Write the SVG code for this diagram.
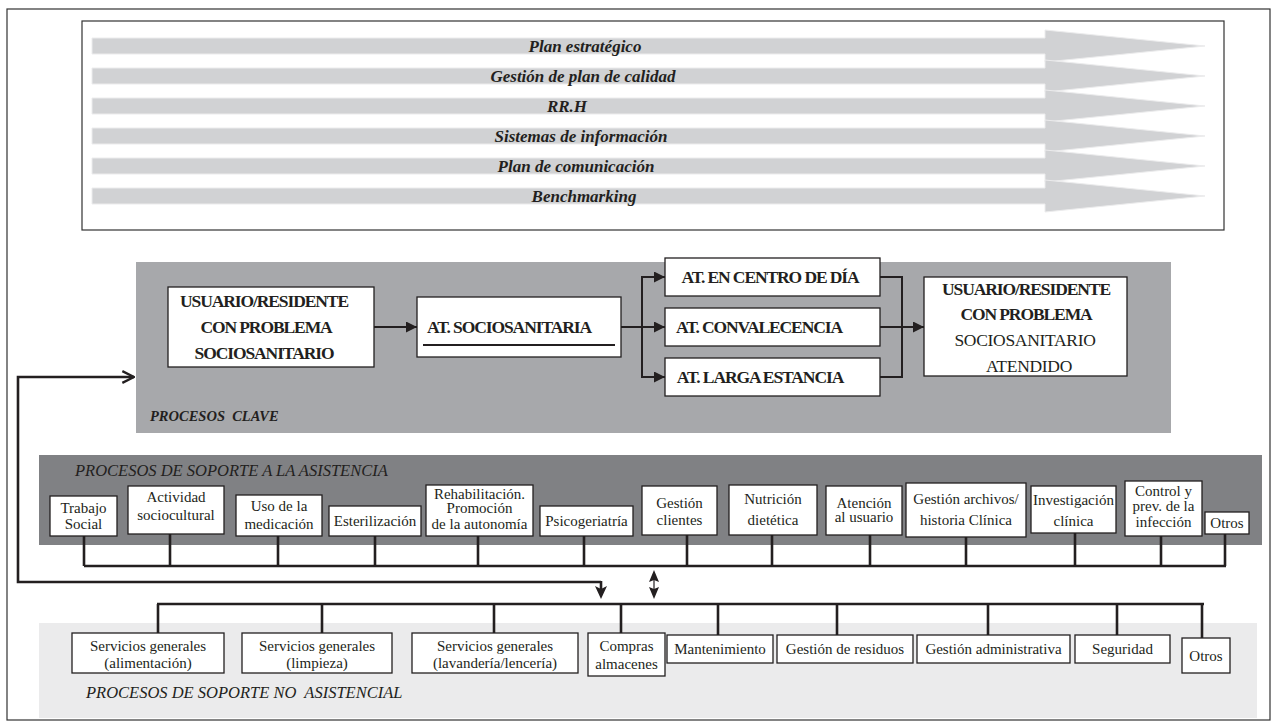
<svg xmlns="http://www.w3.org/2000/svg" width="1278" height="726" viewBox="0 0 1278 726">
<style>
.frame{fill:none;stroke:#333;stroke-width:1.2}
.bar{fill:#d1d2d4;stroke:#ececed;stroke-width:1}
text{font-family:'Liberation Serif','Times New Roman','DejaVu Serif',serif;fill:#231f20}
.bt{font-style:italic;font-weight:bold;font-size:17px;text-anchor:middle}
.box{fill:#fff;stroke:#231f20;stroke-width:1.3}
.kb{font-weight:bold;font-size:17.5px;letter-spacing:-1.1px;text-anchor:middle}
.kr{font-size:17.5px;letter-spacing:-0.3px;text-anchor:middle}
.st{font-size:15px;text-anchor:middle}
.lab{font-style:italic;font-size:16.5px}
.labb{font-style:italic;font-weight:bold;font-size:14.5px}
.ln{fill:none;stroke:#231f20;stroke-width:2}
.lnb{fill:none;stroke:#231f20;stroke-width:2.6}
</style>
<defs>
<marker id="ah" viewBox="0 0 10 10" refX="10" refY="5" markerWidth="11" markerHeight="11" markerUnits="userSpaceOnUse" orient="auto">
<path d="M0,0 L10,5 L0,10 z" fill="#231f20"/>
</marker>
<marker id="oa" viewBox="0 0 12 12" refX="11" refY="6" markerWidth="14" markerHeight="14" markerUnits="userSpaceOnUse" orient="auto">
<path d="M1,1 L11,6 L1,11" fill="none" stroke="#231f20" stroke-width="2"/>
</marker>
</defs>
<rect width="1278" height="726" fill="#fff"/>
<rect class="frame" x="7" y="9" width="1263" height="711"/>

<g id="estrategicos">
<rect class="frame" x="82" y="21" width="1142" height="209"/>
<g id="plan-estrategico"><polygon class="bar" points="92,38 1045,38 1045,30 1205,46 1045,62 1045,54 92,54"/><text class="bt" x="585" y="52">Plan estratégico</text></g>
<g id="gestion-calidad"><polygon class="bar" points="92,68 1045,68 1045,60 1205,76 1045,92 1045,84 92,84"/><text class="bt" x="583" y="82">Gestión de plan de calidad</text></g>
<g id="rrhh"><polygon class="bar" points="92,98 1045,98 1045,90 1205,106 1045,122 1045,114 92,114"/><text class="bt" x="567" y="112">RR.H</text></g>
<g id="sistemas"><polygon class="bar" points="92,128 1045,128 1045,120 1205,136 1045,152 1045,144 92,144"/><text class="bt" x="581" y="142">Sistemas de información</text></g>
<g id="comunicacion"><polygon class="bar" points="92,158 1045,158 1045,150 1205,166 1045,182 1045,174 92,174"/><text class="bt" x="576" y="172">Plan de comunicación</text></g>
<g id="benchmarking"><polygon class="bar" points="92,188 1045,188 1045,180 1205,196 1045,212 1045,204 92,204"/><text class="bt" x="584" y="202">Benchmarking</text></g>
</g>

<g id="procesos-clave-bg">
<rect x="136" y="262" width="1035" height="171" fill="#a7a8ab"/>
<text class="labb" x="150" y="421" xml:space="preserve">PROCESOS  CLAVE</text>
</g>
<g id="soporte-asistencia-bg">
<rect x="39" y="455" width="1223" height="90" fill="#808184"/>
<text class="lab" x="75" y="476">PROCESOS DE SOPORTE A LA ASISTENCIA</text>
</g>
<g id="soporte-no-asistencial-bg">
<rect x="39" y="623" width="1218" height="95" fill="#ebebec"/>
<text class="lab" x="86" y="698" xml:space="preserve">PROCESOS DE SOPORTE NO  ASISTENCIAL</text>
</g>

<g id="connectors">
<line class="ln" x1="374" y1="327" x2="417" y2="327" marker-end="url(#ah)"/>
<polyline class="ln" points="621,327 642,327"/>
<line class="ln" x1="642" y1="277" x2="642" y2="377"/>
<line class="ln" x1="641" y1="277" x2="665" y2="277" marker-end="url(#ah)"/>
<line class="ln" x1="642" y1="327" x2="665" y2="327" marker-end="url(#ah)"/>
<line class="ln" x1="641" y1="377" x2="665" y2="377" marker-end="url(#ah)"/>
<line class="ln" x1="880" y1="277" x2="903" y2="277"/>
<line class="ln" x1="880" y1="327" x2="902" y2="327"/>
<line class="ln" x1="880" y1="377" x2="903" y2="377"/>
<line class="ln" x1="902" y1="276" x2="902" y2="378"/>
<line class="ln" x1="902" y1="327" x2="924" y2="327" marker-end="url(#ah)"/>

<polyline class="lnb" points="601,582 18,582 18,377 134,377" marker-end="url(#oa)"/>
<line class="lnb" x1="601" y1="581" x2="601" y2="590"/>
<path d="M595,586 L601,589 L607,586 L601,599 z" fill="#231f20"/>
<line x1="654" y1="574" x2="654" y2="595" stroke="#231f20" stroke-width="1.2"/>
<path d="M654,570 L659,582 L654,580 L649,582 z" fill="#231f20"/>
<path d="M654,599 L659,587 L654,589 L649,587 z" fill="#231f20"/>

<line class="lnb" x1="84" y1="566" x2="1226" y2="566"/>
<line class="lnb" x1="84" y1="536" x2="84" y2="566"/>
<line class="lnb" x1="170" y1="534" x2="170" y2="566"/>
<line class="lnb" x1="278" y1="536" x2="278" y2="566"/>
<line class="lnb" x1="375" y1="536" x2="375" y2="566"/>
<line class="lnb" x1="478" y1="536" x2="478" y2="566"/>
<line class="lnb" x1="584" y1="536" x2="584" y2="566"/>
<line class="lnb" x1="687" y1="535" x2="687" y2="566"/>
<line class="lnb" x1="772" y1="535" x2="772" y2="566"/>
<line class="lnb" x1="870" y1="535" x2="870" y2="566"/>
<line class="lnb" x1="966" y1="537" x2="966" y2="566"/>
<line class="lnb" x1="1075" y1="533" x2="1075" y2="566"/>
<line class="lnb" x1="1161" y1="536" x2="1161" y2="566"/>
<line class="lnb" x1="1225" y1="534" x2="1225" y2="566"/>

<line class="lnb" x1="157" y1="604" x2="1204" y2="604"/>
<line class="lnb" x1="158" y1="604" x2="158" y2="633"/>
<line class="lnb" x1="322" y1="604" x2="322" y2="633"/>
<line class="lnb" x1="494" y1="604" x2="494" y2="633"/>
<line class="lnb" x1="621" y1="604" x2="621" y2="633"/>
<line class="lnb" x1="718" y1="604" x2="718" y2="635"/>
<line class="lnb" x1="837" y1="604" x2="837" y2="635"/>
<line class="lnb" x1="988" y1="604" x2="988" y2="635"/>
<line class="lnb" x1="1117" y1="604" x2="1117" y2="635"/>
<line class="lnb" x1="1202" y1="604" x2="1202" y2="638"/>
</g>

<g id="usuario-entrada"><rect class="box" x="168" y="287" width="206" height="80"/>
<text class="kb" x="264" y="307">USUARIO/RESIDENTE</text><text class="kb" x="266" y="333">CON PROBLEMA</text><text class="kb" x="264" y="359">SOCIOSANITARIO</text></g>
<g id="at-sociosanitaria"><rect class="box" x="417" y="297" width="204" height="60"/>
<text class="kb" x="509" y="333">AT. SOCIOSANITARIA</text><line x1="423" y1="345" x2="615" y2="345" stroke="#231f20" stroke-width="2"/></g>
<g id="at-centro-dia"><rect class="box" x="665" y="258" width="215" height="38"/><text class="kb" x="770" y="283">AT. EN CENTRO DE DÍA</text></g>
<g id="at-convalecencia"><rect class="box" x="665" y="308" width="215" height="38"/><text class="kb" x="759" y="333">AT. CONVALECENCIA</text></g>
<g id="at-larga-estancia"><rect class="box" x="665" y="358" width="215" height="38"/><text class="kb" x="760" y="383">AT. LARGA ESTANCIA</text></g>
<g id="usuario-atendido"><rect class="box" x="924" y="277" width="203" height="99"/>
<text class="kb" x="1026" y="295">USUARIO/RESIDENTE</text><text class="kb" x="1026" y="320">CON PROBLEMA</text><text class="kr" x="1025" y="346">SOCIOSANITARIO</text><text class="kr" x="1029" y="372">ATENDIDO</text></g>

<g id="trabajo-social"><rect class="box" x="50" y="496" width="67" height="40"/><text class="st" x="83.5" y="513">Trabajo</text><text class="st" x="83.5" y="529">Social</text></g>
<g id="actividad"><rect class="box" x="128" y="486" width="96" height="48"/><text class="st" x="176" y="502">Actividad</text><text class="st" x="176" y="520">sociocultural</text></g>
<g id="uso-medicacion"><rect class="box" x="236" y="495" width="86" height="41"/><text class="st" x="279" y="511">Uso de la</text><text class="st" x="279" y="529">medicación</text></g>
<g id="esterilizacion"><rect class="box" x="329" y="506" width="92" height="30"/><text class="st" x="375" y="526">Esterilización</text></g>
<g id="rehabilitacion"><rect class="box" x="426" y="485" width="107" height="51"/><text class="st" x="479.5" y="499">Rehabilitación.</text><text class="st" x="479.5" y="513">Promoción</text><text class="st" x="479.5" y="529">de la autonomía</text></g>
<g id="psicogeriatria"><rect class="box" x="540" y="506" width="93" height="30"/><text class="st" x="586.5" y="526">Psicogeriatría</text></g>
<g id="gestion-clientes"><rect class="box" x="642" y="486" width="75" height="49"/><text class="st" x="679.5" y="508">Gestión</text><text class="st" x="679.5" y="525">clientes</text></g>
<g id="nutricion"><rect class="box" x="729" y="485" width="88" height="50"/><text class="st" x="773" y="504">Nutrición</text><text class="st" x="773" y="525">dietética</text></g>
<g id="atencion-usuario"><rect class="box" x="826" y="486" width="76" height="49"/><text class="st" x="864" y="508">Atención</text><text class="st" x="864" y="522">al usuario</text></g>
<g id="gestion-archivos"><rect class="box" x="906" y="483" width="120" height="54"/><text class="st" x="966" y="504">Gestión archivos/</text><text class="st" x="966" y="525">historia Clínica</text></g>
<g id="investigacion"><rect class="box" x="1031" y="486" width="85" height="47"/><text class="st" x="1073.5" y="505">Investigación</text><text class="st" x="1073.5" y="526">clínica</text></g>
<g id="control-infeccion"><rect class="box" x="1125" y="481" width="77" height="55"/><text class="st" x="1163.5" y="496">Control y</text><text class="st" x="1163.5" y="511">prev. de la</text><text class="st" x="1163.5" y="527">infección</text></g>
<g id="otros-asistencia"><rect class="box" x="1205" y="512" width="44" height="22"/><text class="st" x="1227" y="528">Otros</text></g>

<g id="sg-alimentacion"><rect class="box" x="72" y="633" width="152" height="40"/><text class="st" x="148" y="651">Servicios generales</text><text class="st" x="148" y="668">(alimentación)</text></g>
<g id="sg-limpieza"><rect class="box" x="242" y="633" width="150" height="40"/><text class="st" x="317" y="651">Servicios generales</text><text class="st" x="317" y="668">(limpieza)</text></g>
<g id="sg-lavanderia"><rect class="box" x="412" y="633" width="166" height="40"/><text class="st" x="495" y="651">Servicios generales</text><text class="st" x="495" y="668">(lavandería/lencería)</text></g>
<g id="compras"><rect class="box" x="588" y="633" width="77" height="43"/><text class="st" x="626.5" y="651">Compras</text><text class="st" x="626.5" y="669">almacenes</text></g>
<g id="mantenimiento"><rect class="box" x="667" y="635" width="106" height="28"/><text class="st" x="720" y="654">Mantenimiento</text></g>
<g id="gestion-residuos"><rect class="box" x="777" y="635" width="136" height="28"/><text class="st" x="845" y="654">Gestión de residuos</text></g>
<g id="gestion-administrativa"><rect class="box" x="917" y="635" width="153" height="28"/><text class="st" x="993.5" y="654">Gestión administrativa</text></g>
<g id="seguridad"><rect class="box" x="1075" y="635" width="95" height="28"/><text class="st" x="1122.5" y="654">Seguridad</text></g>
<g id="otros-no-asistencial"><rect class="box" x="1182" y="638" width="48" height="35"/><text class="st" x="1206" y="661">Otros</text></g>
</svg>
